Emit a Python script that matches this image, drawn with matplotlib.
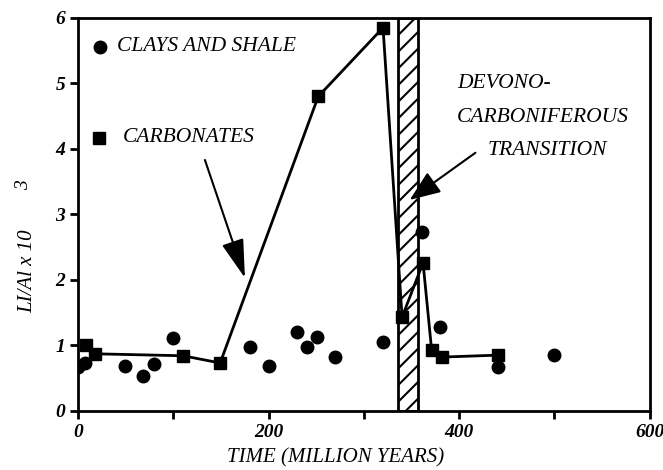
import numpy as np
import matplotlib.pyplot as plt
from matplotlib.patches import Rectangle

# clays and shale (circles)
clay_x = [0, 7, 49, 68, 80, 100, 180, 200, 230, 240, 251, 270, 320, 361, 380, 441, 500]
clay_y = [0.67, 0.73, 0.69, 0.53, 0.72, 1.11, 0.98, 0.69, 1.21, 0.98, 1.13, 0.82, 1.05, 2.73, 1.28, 0.67, 0.85]

# carbonates (squares, joined)
carb_x = [8, 18, 110, 149, 252, 320, 340, 362, 371, 382, 441]
carb_y = [1.0, 0.87, 0.84, 0.73, 4.8, 5.85, 1.43, 2.26, 0.93, 0.82, 0.85]

# devono-carboniferous transition band
band = (336, 357)

serif = "Liberation Serif"
plt.rcParams["hatch.linewidth"] = 1.5

fig = plt.figure(figsize=(6.63, 4.7), dpi=100)
ax = fig.add_axes([0.118, 0.126, 0.862, 0.836])

ax.add_patch(Rectangle((band[0], 0), band[1] - band[0], 6, facecolor="white",
                       edgecolor="black", hatch="//", linewidth=2, zorder=1))

ax.plot(carb_x, carb_y, "s-", color="black", markersize=9, linewidth=2, zorder=3)
ax.plot(clay_x, clay_y, "o", color="black", markersize=9, linestyle="none", zorder=3)

# legend-ish labels drawn in the plot
ax.plot([23], [5.56], "o", color="black", markersize=9)
ax.text(41, 5.56, "CLAYS AND SHALE", fontsize=15.5, style="italic", family=serif, va="center")
ax.plot([22], [4.17], "s", color="black", markersize=9)
ax.text(47, 4.17, "CARBONATES", fontsize=15.5, style="italic", family=serif, va="center")

ax.text(398, 5.0, "DEVONO-", fontsize=15.5, style="italic", family=serif, va="center")
ax.text(397, 4.48, "CARBONIFEROUS", fontsize=15.5, style="italic", family=serif, va="center")
ax.text(492, 3.98, "TRANSITION", fontsize=15.5, style="italic", family=serif, va="center", ha="center")

arrow = dict(arrowstyle="-|>,head_length=2.4,head_width=0.7", color="black", linewidth=1.5,
             shrinkA=0, shrinkB=0)
ax.annotate("", xy=(175, 2.03), xytext=(133, 3.83), arrowprops=arrow)
ax.annotate("", xy=(348, 3.22), xytext=(417, 3.94),
            arrowprops=dict(arrow, arrowstyle="-|>,head_length=1.9,head_width=0.75"))

ax.set_xlim(0, 600)
ax.set_ylim(0, 6)
ax.set_xticks([0, 200, 400, 600])
ax.set_xticks([100, 300, 500], minor=True)
ax.set_yticks(range(0, 7))
ax.tick_params(which="both", direction="out", length=6, width=2)
for lab in ax.get_xticklabels() + ax.get_yticklabels():
    lab.set_family(serif)
    lab.set_style("italic")
    lab.set_weight("bold")
    lab.set_fontsize(14)
for s in ax.spines.values():
    s.set_linewidth(2)

ax.set_xlabel("TIME (MILLION YEARS)", fontsize=15, style="italic", family=serif)
ax.xaxis.set_label_coords(0.45, -0.095)
ax.set_ylabel("LI/Al x 10", fontsize=15, style="italic", family=serif)
ax.yaxis.set_label_coords(-0.072, 0.355)
fig.text(0.036, 0.607, "3", fontsize=14, style="italic", family=serif, rotation=90,
         ha="center", va="center")

fig.savefig("out.png", dpi=100)
